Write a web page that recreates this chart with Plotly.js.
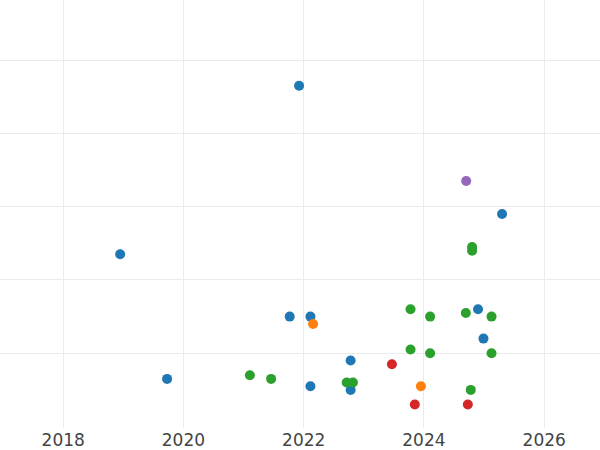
<!DOCTYPE html>
<html>
<head>
<meta charset="utf-8">
<script src="https://cdn.plot.ly/plotly-3.0.1.min.js"></script>
<style>html,body{margin:0;padding:0;background:#fff}#chart{width:600px;height:450px}</style>
</head>
<body>
<div id="chart"></div>
<script>
// Series A (blue)
const blueDates = ["2021-12-04","2018-12-13","2025-04-20","2021-10-08","2022-02-11","2024-11-25","2024-12-28","2022-10-13","2019-09-24","2022-02-11","2022-10-13"];
const blueValues = [4.65,2.35,2.9,1.5,1.5,1.6,1.2,0.9,0.65,0.55,0.5];
// Series B (orange)
const orangeDates = ["2022-02-27","2023-12-14"];
const orangeValues = [1.4,0.55];
// Series C (green)
const greenDates = ["2024-10-20","2024-10-20","2023-10-12","2024-02-08","2024-09-12","2025-02-15","2023-10-12","2024-02-08","2025-02-15","2021-02-08","2021-06-17","2022-09-19","2022-10-27","2024-10-12"];
const greenValues = [2.45,2.4,1.6,1.5,1.55,1.5,1.05,1.0,1.0,0.7,0.65,0.6,0.6,0.5];
// Series D (red)
const redDates = ["2023-06-21","2023-11-07","2024-09-24"];
const redValues = [0.85,0.3,0.3];
// Series E (purple)
const purpleDates = ["2024-09-14"];
const purpleValues = [3.35];

const tickVals = ["2018-01-01","2020-01-01","2022-01-01","2024-01-01","2026-01-01"];
const tickText = ["2018","2020","2022","2024","2026"];
const yGridVals = [1, 2, 3, 4, 5];

function tr(x, y, color) {
  return {x: x, y: y, type: "scatter", mode: "markers", marker: {color: color, size: 10}, hoverinfo: "x+y"};
}

const data = [
  tr(blueDates, blueValues, "#1f77b4"),
  tr(orangeDates, orangeValues, "#ff7f0e"),
  tr(greenDates, greenValues, "#2ca02c"),
  tr(redDates, redValues, "#d62728"),
  tr(purpleDates, purpleValues, "#9467bd")
];

const layout = {
  width: 600, height: 450,
  margin: {l: 0, r: 0, t: 0, b: 22},
  paper_bgcolor: "#fff", plot_bgcolor: "#fff",
  showlegend: false,
  font: {family: "DejaVu Sans", color: "#444"},
  xaxis: {
    type: "date",
    range: ["2016-12-13", "2026-12-06"],
    tickvals: tickVals, ticktext: tickText,
    tickfont: {size: 17, color: "#444", family: "DejaVu Sans"},
    gridcolor: "#ebebeb", gridwidth: 1,
    showline: false, zeroline: false, ticks: ""
  },
  yaxis: {
    range: [-0.02, 5.82],
    tickmode: "array", tickvals: yGridVals,
    showticklabels: false,
    gridcolor: "#ebebeb", gridwidth: 1,
    showline: false, zeroline: false, ticks: ""
  }
};

Plotly.newPlot("chart", data, layout, {displayModeBar: false, staticPlot: true});
</script>
</body>
</html>
